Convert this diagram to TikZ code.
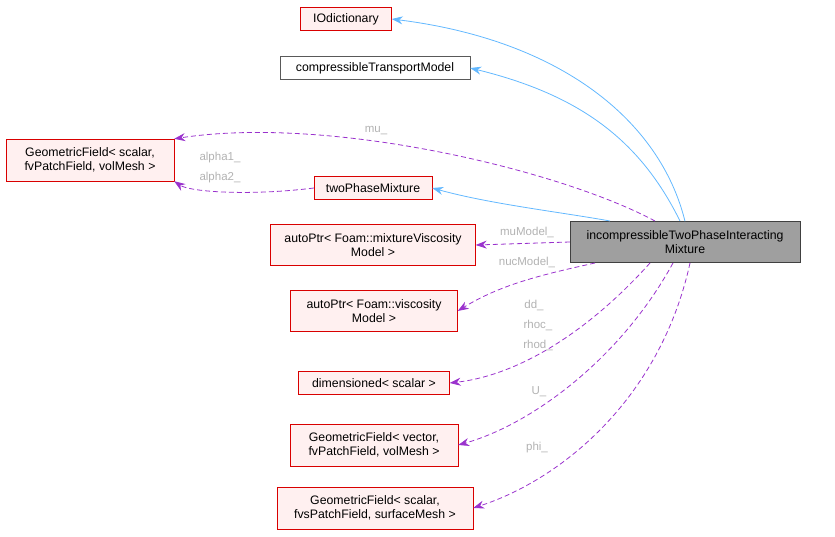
\documentclass[tikz,border=0pt]{standalone}
\usepackage{fontspec}
\setmainfont{Liberation Sans}
\usetikzlibrary{arrows.meta}
\definecolor{inhc}{HTML}{63B8FF}
\definecolor{usec}{HTML}{9A32CD}
\begin{document}
\begin{tikzpicture}[x=1pt,y=-1pt,
  every node/.style={font=\fontsize{12.3}{14}\selectfont},
  box/.style={draw=red!85!black,fill=red!6,inner sep=0pt,align=center,minimum height=23pt},
  gbox/.style={draw=gray!70!black,fill=white,inner sep=0pt,minimum height=23pt},
  inh/.style={draw=inhc,line width=0.8pt,-{Stealth[length=11pt,width=8pt]}},
  use/.style={draw=usec,line width=0.8pt,dashed,dash pattern=on 5pt off 3pt,-{Stealth[length=11pt,width=8pt]}},
  lab/.style={text=gray!60,font=\fontsize{11.5}{13}\selectfont}]
\useasboundingbox (0,0) rectangle (835,536);
\node[box,minimum width=91pt] (io) at (346,19) {IOdictionary};
\node[gbox,minimum width=190pt] (ct) at (375,68) {compressibleTransportModel};
\node[box,minimum width=168pt,minimum height=42pt] (gs) at (90,160) {GeometricField< scalar,\\ fvPatchField, volMesh >};
\node[box,minimum width=118pt] (tp) at (373,188) {twoPhaseMixture};
\node[draw=gray!50!black,fill=gray!75,inner sep=0pt,align=center,minimum width=230pt,minimum height=41pt] (m) at (685,242) {incompressibleTwoPhaseInteracting\\Mixture};
\node[box,minimum width=205pt,minimum height=41pt] (am) at (373,245) {autoPtr< Foam::mixtureViscosity\\ Model >};
\node[box,minimum width=167pt,minimum height=41pt] (av) at (374,311) {autoPtr< Foam::viscosity\\ Model >};
\node[box,minimum width=151pt] (ds) at (374,383) {dimensioned< scalar >};
\node[box,minimum width=168pt,minimum height=42pt] (gv) at (374,445) {GeometricField< vector,\\ fvPatchField, volMesh >};
\node[box,minimum width=196pt,minimum height=42pt] (gf) at (375,508) {GeometricField< scalar,\\ fvsPatchField, surfaceMesh >};

\draw[inh] (m.north) .. controls (660,120) and (560,40) .. (io.east);
\draw[inh] (680,221) .. controls (640,140) and (580,95) .. (ct.east);
\draw[inh] (610,221) .. controls (560,212) and (490,204) .. (tp.east);
\draw[use] (655,221) .. controls (560,170) and (330,115) .. (gs.north east);
\draw[use] (tp.west) .. controls (250,196) and (190,192) .. (gs.south east);
\draw[use] (m.west) -- (am.east);
\draw[use] (595,263) .. controls (540,275) and (500,285) .. (av.east);
\draw[use] (650,263) .. controls (590,330) and (520,375) .. (ds.east);
\draw[use] (673,263) .. controls (620,360) and (530,425) .. (gv.east);
\draw[use] (690,263) .. controls (660,400) and (560,480) .. (gf.east);

\node[lab] at (376,131) {mu\_};
\node[lab] at (220,158) {alpha1\_};
\node[lab] at (220,178) {alpha2\_};
\node[lab] at (527,232) {muModel\_};
\node[lab] at (527,262) {nucModel\_};
\node[lab] at (534,305) {dd\_};
\node[lab] at (538,325) {rhoc\_};
\node[lab] at (538,345) {rhod\_};
\node[lab] at (539,392) {U\_};
\node[lab] at (537,448) {phi\_};
\end{tikzpicture}
\end{document}
